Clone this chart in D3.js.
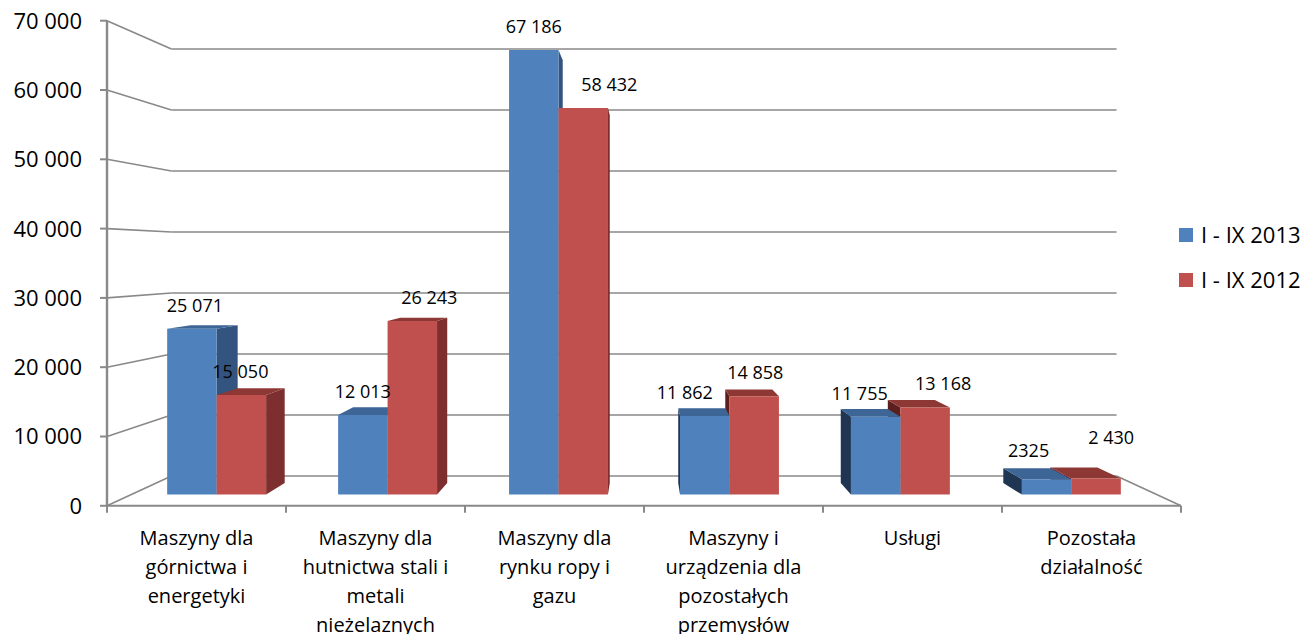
<!DOCTYPE html>
<html>
<head>
<meta charset="utf-8">
<script src="https://cdn.jsdelivr.net/npm/d3@7"></script>
<style>
  body { margin: 0; background: #fff; }
  text { font-family: "Open Sans", sans-serif; fill: #000; }
</style>
</head>
<body>
<div id="chart"></div>
<script>
// data
var categories = [
  "Maszyny dla\ngórnictwa i\nenergetyki",
  "Maszyny dla\nhutnictwa stali i\nmetali\nnieżelaznych",
  "Maszyny dla\nrynku ropy i\ngazu",
  "Maszyny i\nurządzenia dla\npozostałych\nprzemysłów",
  "Usługi",
  "Pozostała\ndziałalność"
];
var seriesNames = ["I - IX 2013", "I - IX 2012"];
var values2013 = [25071, 12013, 67186, 11862, 11755, 2325];
var values2012 = [15050, 26243, 58432, 14858, 13168, 2430];
var labels2013 = ["25 071", "12 013", "67 186", "11 862", "11 755", "2325"];
var labels2012 = ["15 050", "26 243", "58 432", "14 858", "13 168", "2 430"];
var yTicks = [0, 10000, 20000, 30000, 40000, 50000, 60000, 70000];

// hand-moved data labels in the original (offset from bar top, px)
var labelShift = [
  [[3, 0], [0, 0], [0, 0], [-20, 0], [-16, 0], [-18, -5]],
  [[-1, 0], [17, 0], [26, 0], [1, 0], [18, 0], [15, -18]]
];

var W = 1309, H = 634;

var svg = d3.select("#chart").append("svg")
    .attr("width", W)
    .attr("height", H);

// front plane scales (pixels of the front face of the box)
var xScale = d3.scaleBand()
    .domain(d3.range(categories.length))
    .range([107, 1181])
    .paddingInner(0).paddingOuter(0);

var xSeries = d3.scaleBand()
    .domain(d3.range(seriesNames.length))
    .range([0, xScale.bandwidth()])
    .paddingInner(0).paddingOuter(0.728);

var yScale = d3.scaleLinear()
    .domain([0, 70000])
    .range([505.8, 20.7]);

// perspective: vanishing point and depth factors
var vx = 644, vy = 257;
var sBack = 0.88, sBarFront = 0.955, sBarBack = 0.908;

function proj(X, Y, s) {
  return [vx + (X - vx) * s, vy + (Y - vy) * s];
}
function poly(pts) {
  return pts.map(function(p) { return p[0].toFixed(2) + "," + p[1].toFixed(2); }).join(" ");
}

var gridColor = "#898989";
var fmt = d3.formatLocale({decimal: ",", thousands: " ", grouping: [3], currency: ["", ""]}).format(",d");

var grid = svg.append("g");

// back wall gridlines + left wall connectors
yTicks.forEach(function(t) {
  var f = [107, yScale(t)];
  var bl = proj(107, yScale(t), sBack);
  var br = proj(1181, yScale(t), sBack);
  grid.append("line")
    .attr("x1", bl[0]).attr("y1", bl[1]).attr("x2", br[0]).attr("y2", br[1])
    .attr("stroke", gridColor).attr("stroke-width", 1.6);
  grid.append("line")
    .attr("x1", f[0]).attr("y1", f[1]).attr("x2", bl[0]).attr("y2", bl[1])
    .attr("stroke", gridColor).attr("stroke-width", 1.6);
  // tick mark
  grid.append("line")
    .attr("x1", 100).attr("y1", f[1]).attr("x2", 107).attr("y2", f[1])
    .attr("stroke", gridColor).attr("stroke-width", 2);
  svg.append("text")
    .attr("x", 82)
    .attr("y", f[1])
    .attr("dy", "0.36em")
    .attr("text-anchor", "end")
    .style("font-size", "22px")
    .text(fmt(t));
});

// floor right edge
var fr0 = proj(1181, yScale(0), sBack);
grid.append("line")
  .attr("x1", fr0[0]).attr("y1", fr0[1]).attr("x2", 1181).attr("y2", yScale(0))
  .attr("stroke", gridColor).attr("stroke-width", 1.6);

// front x axis with ticks
grid.append("line")
  .attr("x1", 107).attr("y1", yScale(0)).attr("x2", 1181).attr("y2", yScale(0))
  .attr("stroke", gridColor).attr("stroke-width", 2);
d3.range(categories.length + 1).forEach(function(i) {
  var x = 107 + i * xScale.step();
  grid.append("line")
    .attr("x1", x).attr("y1", yScale(0)).attr("x2", x).attr("y2", yScale(0) + 7)
    .attr("stroke", gridColor).attr("stroke-width", 2);
});

// front y axis
grid.append("line")
  .attr("x1", 107).attr("y1", yScale(70000)).attr("x2", 107).attr("y2", yScale(0))
  .attr("stroke", gridColor).attr("stroke-width", 2.4);

// bars
var colors = [
  {front: "#4F81BD", top: "#3D6596", side: "#33547E", dark: "#1F3551"},
  {front: "#C0504D", top: "#8E3835", side: "#7C2F2E", dark: "#5C1F1E"}
];

var bars = [];
categories.forEach(function(c, i) {
  [values2013, values2012].forEach(function(vals, k) {
    var x0 = xScale(i) + xSeries(k);
    bars.push({
      cat: i, k: k, value: vals[i],
      label: (k === 0 ? labels2013 : labels2012)[i],
      x0: x0, x1: x0 + xSeries.bandwidth(),
      yt: yScale(vals[i]), yb: yScale(0)
    });
  });
});

// paint far-from-centre bars first
var order = bars.slice().sort(function(a, b) {
  return Math.abs((b.x0 + b.x1) / 2 - vx) - Math.abs((a.x0 + a.x1) / 2 - vx);
});

var barLayer = svg.append("g");
order.forEach(function(d) {
  var col = colors[d.k];
  var g = barLayer.append("g");
  if (d.x1 < vx) {
    g.append("polygon")
      .attr("points", poly([proj(d.x1, d.yt, sBarFront), proj(d.x1, d.yt, sBarBack),
                            proj(d.x1, d.yb, sBarBack), proj(d.x1, d.yb, sBarFront)]))
      .attr("fill", col.side);
  }
  if (d.x0 > vx) {
    g.append("polygon")
      .attr("points", poly([proj(d.x0, d.yt, sBarFront), proj(d.x0, d.yt, sBarBack),
                            proj(d.x0, d.yb, sBarBack), proj(d.x0, d.yb, sBarFront)]))
      .attr("fill", col.dark);
  }
  if (d.yt > vy) {
    g.append("polygon")
      .attr("points", poly([proj(d.x0, d.yt, sBarFront), proj(d.x1, d.yt, sBarFront),
                            proj(d.x1, d.yt, sBarBack), proj(d.x0, d.yt, sBarBack)]))
      .attr("fill", col.top);
  }
  g.append("polygon")
    .attr("points", poly([proj(d.x0, d.yt, sBarFront), proj(d.x1, d.yt, sBarFront),
                          proj(d.x1, d.yb, sBarFront), proj(d.x0, d.yb, sBarFront)]))
    .attr("fill", col.front);
});

// value labels
bars.forEach(function(d) {
  var fTop = proj((d.x0 + d.x1) / 2, d.yt, sBarFront);
  var shift = labelShift[d.k][d.cat];
  svg.append("text")
    .attr("x", fTop[0] + shift[0])
    .attr("y", fTop[1] - 17 + shift[1])
    .attr("text-anchor", "middle")
    .style("font-size", "18px")
    .text(d.label);
});

// category labels
categories.forEach(function(c, i) {
  var t = svg.append("text")
    .attr("text-anchor", "middle")
    .style("font-size", "20px");
  c.split("\n").forEach(function(line, j) {
    t.append("tspan")
      .attr("x", xScale(i) + xScale.bandwidth() / 2)
      .attr("y", 545 + j * 29)
      .text(line);
  });
});

// legend
var legend = svg.append("g").attr("transform", "translate(1179,228)");
seriesNames.forEach(function(s, k) {
  legend.append("rect")
    .attr("x", 0).attr("y", k * 45)
    .attr("width", 14).attr("height", 14)
    .attr("fill", colors[k].front);
  legend.append("text")
    .attr("x", 22).attr("y", k * 45 + 7)
    .attr("dy", "0.36em")
    .style("font-size", "22px")
    .text(s);
});
</script>
</body>
</html>
